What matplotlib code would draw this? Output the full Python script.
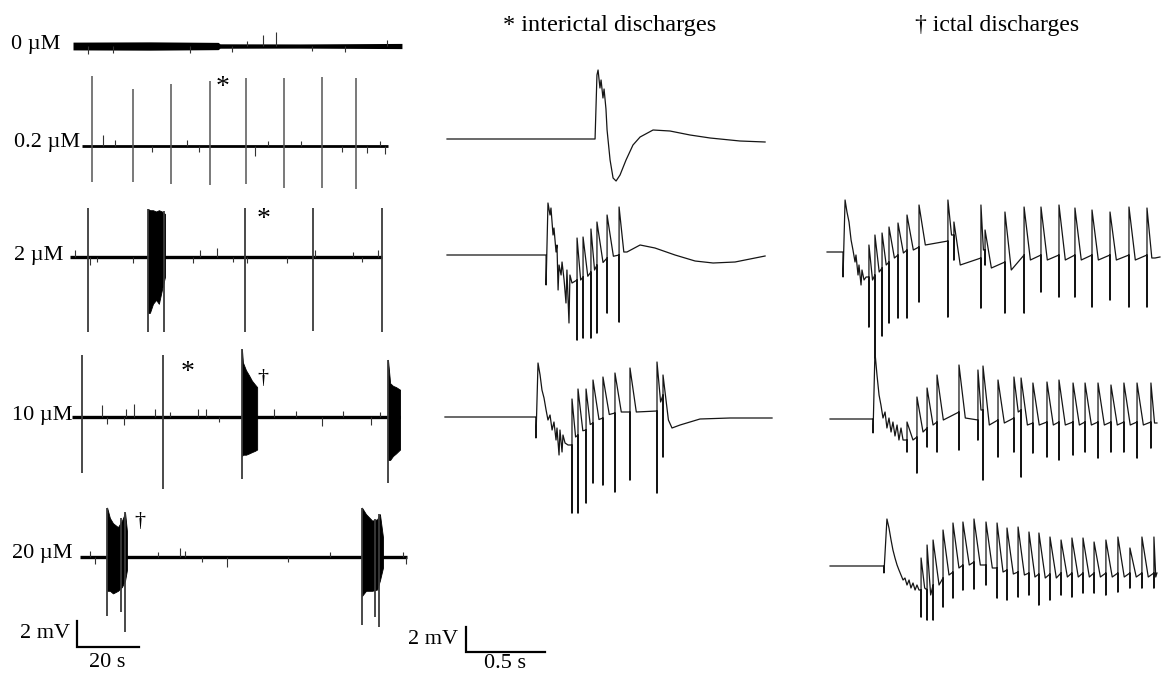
import matplotlib.pyplot as plt
import numpy as np

plt.rcParams['font.family'] = ['Liberation Serif', 'DejaVu Serif']

# ---------------- left column: long recordings (s, mV) ----------------
conc_labels = ['0 µM', '0.2 µM', '2 µM', '10 µM', '20 µM']

# 0 uM: noisy baseline band + a few small deflections
r0_band_t = [0.0, 24.8, 46.8, 47.4, 73.2, 106.1]
r0_band_hw = [0.30, 0.32, 0.28, 0.17, 0.16, 0.20]
r0_tick_t = [4.8, 12.9, 37.7, 51.3, 56.1, 61.3, 65.5, 77.1, 87.7, 101.3]
r0_tick_v = [-0.6, -0.55, -0.5, -0.45, 0.4, 0.85, 1.1, -0.4, -0.45, 0.5]

# 0.2 uM
r1_span = [2.9, 101.6]
r1_spk_t = [6.1, 19.4, 31.6, 44.2, 55.8, 68.1, 80.3, 91.3]
r1_spk_top = [5.4, 4.4, 4.8, 5.0, 5.2, 5.2, 5.3, 5.2]
r1_spk_bot = [-2.8, -2.8, -2.9, -3.0, -2.9, -3.2, -3.2, -3.3]
r1_tick_t = [9.7, 13.5, 25.5, 36.8, 40.6, 58.7, 62.9, 73.5, 86.8, 94.8, 99.0, 100.6]
r1_tick_v = [0.85, 0.45, -0.5, 0.45, -0.5, -0.8, 0.4, 0.4, -0.45, -0.55, 0.35, -0.6]

# 2 uM
r2_span = [-1.0, 99.7]
r2_spk_t = [4.8, 24.2, 29.4, 55.5, 77.4, 99.7]
r2_spk_top = [3.8, 3.7, 3.5, 3.8, 3.8, 3.8]
r2_spk_bot = [-5.8, -5.8, -5.8, -5.8, -5.7, -5.8]
r2_burst_t = [24.2, 24.8, 25.8, 26.8, 27.7, 28.7, 29.7]
r2_burst_top = [3.7, 3.6, 3.6, 3.5, 3.6, 3.5, 3.3]
r2_burst_bot = [-4.3, -4.3, -3.6, -3.3, -3.6, -2.5, -1.5]
r2_tick_t = [0.6, 5.5, 7.7, 19.4, 38.7, 41.0, 46.5, 51.6, 56.2, 69.0, 78.1, 90.3, 93.2, 98.4]
r2_tick_v = [0.5, -0.6, -0.4, -0.5, -0.5, 0.5, 0.7, -0.4, -0.5, -0.5, 0.5, 0.4, -0.4, 0.5]

# 10 uM
r3_span = [-0.3, 105.5]
r3_spk_t = [2.9, 29.0, 54.5, 101.6]
r3_spk_top = [4.8, 4.8, 5.2, 4.4]
r3_spk_bot = [-4.3, -5.5, -4.8, -5.1]
r3_b1_t = [54.5, 54.8, 55.8, 56.8, 57.7, 58.7, 59.4]
r3_b1_top = [5.2, 4.2, 3.6, 3.2, 2.8, 2.5, 2.3]
r3_b1_bot = [-3.0, -2.9, -2.9, -2.8, -2.7, -2.6, -2.5]
r3_b2_t = [101.6, 102.3, 103.2, 104.2, 105.5]
r3_b2_top = [4.4, 2.6, 2.4, 2.3, 2.1]
r3_b2_bot = [-3.3, -3.3, -3.0, -2.8, -2.5]
r3_tick_t = [9.4, 11.0, 16.5, 17.1, 19.7, 26.5, 31.3, 40.3, 42.9, 47.1, 64.8, 71.9, 80.3, 87.1, 96.1, 99.0]
r3_tick_v = [0.9, -0.5, -0.6, 0.6, 1.0, 0.6, 0.4, 0.6, 0.6, -0.4, 0.6, 0.5, -0.7, 0.5, -0.6, 0.4]

# 20 uM
r4_span = [2.3, 107.7]
r4_b1_t = [11.0, 11.9, 12.9, 14.5, 15.8, 16.8, 17.4]
r4_b1_top = [3.8, 3.0, 2.6, 2.3, 2.8, 3.4, 2.0]
r4_b1_bot = [-2.6, -2.6, -2.8, -2.6, -2.3, -1.8, -1.0]
r4_b2_t = [93.2, 94.5, 96.5, 98.1, 99.0, 100.0]
r4_b2_top = [3.8, 3.3, 2.8, 2.9, 3.3, 1.5]
r4_b2_bot = [-3.0, -2.6, -2.6, -2.5, -1.8, -0.8]
r4_spk_t = [11.0, 15.5, 16.8, 93.3, 97.5, 98.6]
r4_spk_top = [3.8, 3.0, 3.5, 3.8, 2.9, 3.3]
r4_spk_bot = [-4.5, -4.2, -5.8, -5.2, -4.6, -5.4]
r4_tick_t = [5.5, 7.1, 27.4, 34.5, 36.1, 41.6, 49.7, 69.4, 82.9, 106.5, 107.4]
r4_tick_v = [0.5, -0.5, 0.4, 0.7, 0.5, -0.4, -0.8, -0.4, 0.4, 0.4, -0.5]

# ---------------- middle column: interictal discharges ----------------
mid1_t = [0.000, 0.937, 0.949, 0.956, 0.968, 0.975, 0.987, 0.994, 1.006, 1.013, 1.032, 1.051,
          1.070, 1.095, 1.133, 1.177, 1.222, 1.304, 1.411, 1.538, 1.665, 1.854, 2.013]
mid1_v = [0.00, 0.00, 5.12, 5.52, 4.08, 4.72, 3.28, 4.00, 2.40, 0.72, -1.68, -3.12,
          -3.36, -2.88, -1.68, -0.48, 0.16, 0.72, 0.64, 0.32, 0.08, -0.16, -0.24]

mid2_on_t = [0.000, 0.627, 0.627, 0.639, 0.652, 0.658, 0.671, 0.677, 0.690, 0.696, 0.703, 0.709,
             0.722, 0.728, 0.741, 0.753, 0.759, 0.772, 0.778, 0.791]
mid2_on_v = [0.00, 0.00, -2.40, 4.16, 3.20, 3.76, 1.60, 2.16, 0.24, 0.80, -2.80, -0.80,
             -1.60, -0.56, -2.00, -3.84, -1.20, -5.44, -1.60, -2.24]
mid2_spk_t = [0.823, 0.861, 0.911, 0.949, 1.013, 1.089]
mid2_spk_top = [1.36, 1.44, 2.08, 2.64, 3.20, 3.84]
mid2_spk_bot = [-6.80, -6.64, -6.64, -6.24, -4.64, -5.36]
mid2_spk_base = [-2.00, -1.76, -1.36, -0.80, -0.24, 0.00]
mid2_spk_trough = [-2.0, -1.7, -1.2, -0.6, -0.1, 0.24]
mid2_tail_t = [1.139, 1.222, 1.316, 1.443, 1.570, 1.684, 1.823, 2.013]
mid2_tail_v = [0.24, 0.80, 0.56, 0.00, -0.48, -0.64, -0.56, -0.08]

mid3_on_t = [-0.013, 0.563, 0.563, 0.576, 0.589, 0.601, 0.614, 0.627, 0.639, 0.652, 0.665, 0.677,
             0.690, 0.696, 0.709, 0.715, 0.728, 0.734, 0.747, 0.766]
mid3_on_v = [0.00, 0.00, -1.68, 4.32, 3.36, 2.16, 1.52, 0.56, -0.24, 0.16, -1.04, -0.40,
             -1.84, -0.88, -3.04, -1.04, -2.80, -1.44, -2.08, -2.24]
mid3_spk_t = [0.791, 0.829, 0.880, 0.924, 0.987, 1.063, 1.158, 1.329, 1.367]
mid3_spk_top = [1.44, 2.24, 2.24, 2.96, 3.20, 3.52, 3.92, 4.40, 3.36]
mid3_spk_bot = [-7.68, -7.68, -6.88, -5.28, -5.44, -6.00, -5.04, -6.08, -3.20]
mid3_spk_base = [-2.24, -1.44, -1.04, -0.48, -0.08, 0.32, 0.40, 0.48, 1.76]
mid3_spk_trough = [-1.6, -1.1, -0.6, -0.2, 0.2, 0.4, 0.4, 1.2, -0.24]
mid3_tail_t = [1.424, 1.475, 1.601, 1.791, 2.057]
mid3_tail_v = [-0.88, -0.64, -0.16, -0.08, -0.08]

# ---------------- right column: ictal discharges ----------------
ict1_on_t = [-0.006, 0.095, 0.095, 0.108, 0.120, 0.133, 0.146, 0.158, 0.171, 0.177, 0.190, 0.196,
             0.209, 0.215, 0.228, 0.241]
ict1_on_v = [0.00, 0.00, -2.00, 4.16, 3.20, 2.40, 0.96, 0.16, -0.80, -0.24, -1.84, -1.04,
             -2.64, -1.44, -2.24, -2.00]
ict1_spk_t = [0.259, 0.297, 0.342, 0.386, 0.443, 0.500, 0.576, 0.759, 0.797, 0.968, 0.994, 1.120,
              1.241, 1.348, 1.462, 1.563, 1.671, 1.785, 1.905, 2.019]
ict1_spk_top = [0.56, 1.36, 1.52, 2.00, 2.32, 2.96, 3.76, 4.16, 2.40, 3.76, 1.76, 3.20,
                3.60, 3.60, 3.76, 3.52, 3.36, 3.20, 3.60, 3.52]
ict1_spk_bot = [-6.00, -8.48, -6.72, -5.68, -5.28, -5.28, -4.00, -5.20, -0.64, -4.48, -1.04, -4.88,
                -4.88, -3.20, -3.60, -3.60, -4.40, -3.84, -4.40, -4.40]
ict1_spk_base = [-2.00, -1.84, -1.28, -0.80, -0.24, 0.16, 0.40, 0.88, 1.36, -0.48, 0.16, -0.80,
                 -0.24, -0.24, -0.24, -0.24, -0.24, -0.24, -0.24, -0.24]
ict1_spk_trough = [-2.24, -1.60, -1.04, -0.48, -0.08, 0.16, 0.56, 1.36, -1.04, 0.16, -1.28, -1.44,
                   -0.64, -0.64, -0.64, -0.64, -0.64, -0.64, -0.64, -0.48]
ict1_tail_t = [2.070, 2.101]
ict1_tail_v = [-0.48, -0.40]

ict2_on_t = [0.013, 0.285, 0.285, 0.297, 0.310, 0.323, 0.335, 0.348, 0.361, 0.373, 0.386, 0.399,
             0.411, 0.424, 0.437, 0.449, 0.462, 0.475]
ict2_on_v = [0.00, 0.00, -1.12, 5.36, 3.52, 1.92, 1.12, 0.08, 0.56, -0.72, 0.08, -1.04,
             -0.24, -1.36, -0.48, -1.68, -0.72, -1.68]
ict2_spk_t = [0.500, 0.563, 0.627, 0.690, 0.829, 0.949, 0.981, 1.076, 1.177, 1.222, 1.297, 1.386,
              1.462, 1.551, 1.627, 1.709, 1.791, 1.873, 1.956, 2.044]
ict2_spk_top = [-0.24, 1.76, 2.48, 3.52, 4.32, 3.92, 4.24, 3.12, 3.36, 3.28, 2.88, 2.96,
                3.12, 2.88, 2.88, 2.88, 2.72, 2.88, 2.88, 2.88]
ict2_spk_bot = [-2.64, -4.32, -2.24, -2.64, -2.48, -1.68, -4.88, -3.04, -2.64, -4.64, -2.72, -3.04,
                -3.28, -2.88, -2.64, -3.12, -2.64, -2.64, -3.12, -2.32]
ict2_spk_base = [-1.68, -1.44, -0.72, -0.24, 0.56, -0.08, 0.72, -0.08, 0.08, 0.72, -0.32, -0.24,
                 -0.24, -0.24, -0.24, -0.24, -0.24, -0.24, -0.24, -0.24]
ict2_spk_trough = [-1.68, -1.04, -0.48, -0.08, 0.08, 0.72, -0.48, -0.32, 0.56, -0.48, -0.48, -0.48,
                   -0.48, -0.48, -0.48, -0.48, -0.48, -0.48, -0.48, -0.32]
ict2_tail_t = [2.082]
ict2_tail_v = [-0.32]

ict3_on_t = [0.013, 0.354, 0.354, 0.373, 0.386, 0.399, 0.411, 0.424, 0.437, 0.449, 0.462, 0.475,
             0.487, 0.500, 0.513, 0.525, 0.538, 0.551, 0.563, 0.576]
ict3_on_v = [0.00, 0.00, -0.56, 3.76, 3.04, 2.08, 1.28, 0.64, 0.08, -0.32, -0.72, -1.12,
             -0.96, -1.52, -1.12, -1.76, -1.36, -1.92, -1.52, -1.92]
ict3_spk_t = [0.589, 0.627, 0.665, 0.728, 0.791, 0.854, 0.924, 1.000, 1.070, 1.133, 1.203, 1.272,
              1.335, 1.405, 1.475, 1.544, 1.614, 1.684, 1.759, 1.835, 1.911, 1.987, 2.063]
ict3_spk_top = [0.64, 1.68, 2.08, 2.88, 3.44, 3.52, 3.76, 3.52, 3.44, 3.04, 3.12, 2.72,
                2.64, 2.32, 2.08, 2.24, 2.24, 1.92, 2.08, 2.32, 1.44, 2.32, 2.32]
ict3_spk_bot = [-4.08, -4.32, -4.32, -3.28, -2.56, -1.92, -1.84, -1.52, -2.56, -2.72, -2.48, -2.32,
                -3.12, -2.72, -2.32, -2.48, -2.16, -2.16, -2.32, -2.08, -1.76, -1.76, -1.76]
ict3_spk_base = [-1.92, -1.92, -1.52, -0.96, -0.48, 0.08, 0.32, 0.08, -0.16, -0.32, -0.48, -0.56,
                 -0.64, -0.64, -0.56, -0.56, -0.56, -0.56, -0.56, -0.56, -0.56, -0.56, -0.56]
ict3_spk_trough = [-1.76, -2.32, -1.52, -0.72, -0.16, 0.08, 0.08, -0.16, -0.48, -0.64, -0.72, -0.88,
                   -0.96, -0.96, -0.88, -0.88, -0.88, -0.88, -0.88, -0.88, -0.88, -0.88, -0.88]
ict3_tail_t = [2.082]
ict3_tail_v = [-0.56]

# ---------------- layout ----------------
LEFT_ROWS = [48.54, 40.85, 32.31, 20.0, 9.23]   # baseline offsets (mV) of the long traces
MID_ROWS = [43.04, 33.76, 20.8]
RIGHT_ROWS = [34.0, 20.64, 8.88]
TAIL = 0.04
INK = '#151515'

fig = plt.figure(figsize=(11.68, 6.77), dpi=100)


def overlay(xlim, ylim):
    ax = fig.add_axes([0, 0, 1, 1])
    ax.set_xlim(*xlim)
    ax.set_ylim(*ylim)
    ax.axis('off')
    ax.patch.set_alpha(0)
    return ax


ax_l = overlay((-23.55, 353.2), (0, 52.08))
ax_m = overlay((-2.829, 4.563), (0, 54.16))
ax_r = overlay((-5.241, 2.152), (0, 54.16))


def base_line(ax, y0, span, lw=2.4):
    ax.plot(span, [y0, y0], color='k', lw=lw, solid_capstyle='butt')


def ticks(ax, y0, t, v):
    ax.vlines(t, y0, y0 + np.array(v), color='#333333', lw=0.8)


def spikes(ax, y0, t, top, bot, color='#3a3a3a', lw=1.3):
    ax.vlines(t, y0 + np.array(bot), y0 + np.array(top), color=color, lw=lw)


def burst(ax, y0, t, top, bot):
    ax.fill_between(t, y0 + np.array(bot), y0 + np.array(top), color='k', lw=0.6)


# left column
y0 = LEFT_ROWS[0]
ax_l.fill_between(r0_band_t, y0 - np.array(r0_band_hw), y0 + np.array(r0_band_hw), color='k', lw=0)
ticks(ax_l, y0, r0_tick_t, r0_tick_v)

y0 = LEFT_ROWS[1]
base_line(ax_l, y0, r1_span, lw=2.0)
ticks(ax_l, y0, r1_tick_t, r1_tick_v)
spikes(ax_l, y0, r1_spk_t, r1_spk_top, r1_spk_bot, color='#555555', lw=1.1)

y0 = LEFT_ROWS[2]
base_line(ax_l, y0, r2_span)
ticks(ax_l, y0, r2_tick_t, r2_tick_v)
burst(ax_l, y0, r2_burst_t, r2_burst_top, r2_burst_bot)
spikes(ax_l, y0, r2_spk_t, r2_spk_top, r2_spk_bot)

y0 = LEFT_ROWS[3]
base_line(ax_l, y0, r3_span)
ticks(ax_l, y0, r3_tick_t, r3_tick_v)
burst(ax_l, y0, r3_b1_t, r3_b1_top, r3_b1_bot)
burst(ax_l, y0, r3_b2_t, r3_b2_top, r3_b2_bot)
spikes(ax_l, y0, r3_spk_t, r3_spk_top, r3_spk_bot)

y0 = LEFT_ROWS[4]
base_line(ax_l, y0, r4_span)
ticks(ax_l, y0, r4_tick_t, r4_tick_v)
burst(ax_l, y0, r4_b1_t, r4_b1_top, r4_b1_bot)
burst(ax_l, y0, r4_b2_t, r4_b2_top, r4_b2_bot)
spikes(ax_l, y0, r4_spk_t, r4_spk_top, r4_spk_bot)

label_x = [-4.2, 2.3, -3.2, -0.3, -0.3]
label_dy = [0.1, 0.25, 0.1, 0.15, 0.3]
for lab, y0, lx, dy in zip(conc_labels, LEFT_ROWS, label_x, label_dy):
    ax_l.text(lx, y0 + dy, lab, ha='right', va='center', fontsize=16)

marks = [('*', 48.1, LEFT_ROWS[1] + 4.5), ('*', 61.6, LEFT_ROWS[2] + 2.9),
         ('*', 37.1, LEFT_ROWS[3] + 3.4), ('†', 61.3, LEFT_ROWS[3] + 3.0),
         ('†', 21.6, LEFT_ROWS[4] + 2.7)]
for sym, mx, my in marks:
    ax_l.text(mx, my, sym, ha='center', va='center', fontsize=20 if sym == '*' else 16)

# left scale bar: 2 mV / 20 s
ax_l.plot([1.3, 1.3, 21.3], [4.31, 2.31, 2.31], color='k', lw=1.6, solid_joinstyle='miter')
ax_l.text(-1.0, 3.38, '2 mV', ha='right', va='center', fontsize=16)
ax_l.text(11.0, 1.15, '20 s', ha='center', va='center', fontsize=16)


# middle / right columns
def spike_trace(on_t, on_v, sp_t, sp_top, sp_bot, sp_base, sp_trough, tail_t, tail_v):
    xs, ys = list(on_t), list(on_v)
    for i, t in enumerate(sp_t):
        nxt = sp_t[i + 1] if i + 1 < len(sp_t) else tail_t[0]
        w = min(TAIL, 0.6 * (nxt - t))
        xs += [t, t, t, t + w]
        ys += [sp_base[i], sp_bot[i], sp_top[i], sp_trough[i]]
    xs += list(tail_t)
    ys += list(tail_v)
    return np.array(xs), np.array(ys)


ax_m.plot(mid1_t, MID_ROWS[0] + np.array(mid1_v), color=INK, lw=0.9)
xs, ys = spike_trace(mid2_on_t, mid2_on_v, mid2_spk_t, mid2_spk_top, mid2_spk_bot,
                     mid2_spk_base, mid2_spk_trough, mid2_tail_t, mid2_tail_v)
ax_m.plot(xs, MID_ROWS[1] + ys, color=INK, lw=0.9)
xs, ys = spike_trace(mid3_on_t, mid3_on_v, mid3_spk_t, mid3_spk_top, mid3_spk_bot,
                     mid3_spk_base, mid3_spk_trough, mid3_tail_t, mid3_tail_v)
ax_m.plot(xs, MID_ROWS[2] + ys, color=INK, lw=0.9)

for row, data in zip(RIGHT_ROWS, [
        (ict1_on_t, ict1_on_v, ict1_spk_t, ict1_spk_top, ict1_spk_bot, ict1_spk_base, ict1_spk_trough, ict1_tail_t, ict1_tail_v),
        (ict2_on_t, ict2_on_v, ict2_spk_t, ict2_spk_top, ict2_spk_bot, ict2_spk_base, ict2_spk_trough, ict2_tail_t, ict2_tail_v),
        (ict3_on_t, ict3_on_v, ict3_spk_t, ict3_spk_top, ict3_spk_bot, ict3_spk_base, ict3_spk_trough, ict3_tail_t, ict3_tail_v)]):
    xs, ys = spike_trace(*data)
    ax_r.plot(xs, row + ys, color=INK, lw=0.9)

# middle scale bar: 2 mV / 0.5 s
ax_m.plot([0.12, 0.12, 0.62], [4.0, 2.0, 2.0], color='k', lw=1.6, solid_joinstyle='miter')
ax_m.text(0.07, 2.96, '2 mV', ha='right', va='center', fontsize=16)
ax_m.text(0.367, 1.04, '0.5 s', ha='center', va='center', fontsize=16)

fig.text(0.522, 0.963, '* interictal discharges', ha='center', va='center', fontsize=17.5)
fig.text(0.854, 0.963, '† ictal discharges', ha='center', va='center', fontsize=17)

fig.savefig('out.png', dpi=100, facecolor='white')
